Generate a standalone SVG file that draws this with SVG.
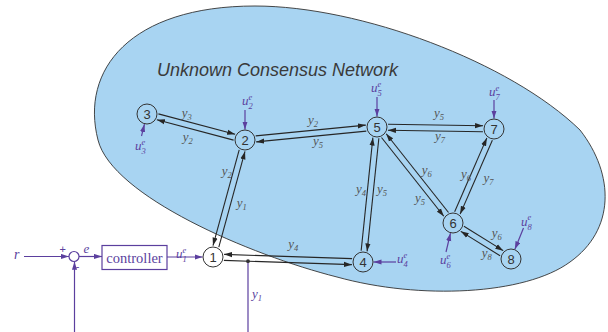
<svg xmlns="http://www.w3.org/2000/svg" width="608" height="332" viewBox="0 0 608 332">
<defs>
<marker id="ah" markerWidth="9" markerHeight="6" refX="8" refY="3" orient="auto" markerUnits="userSpaceOnUse"><path d="M0,0.4 L8,3 L0,5.6 z" fill="#262626"/></marker>
<marker id="ap" markerWidth="9" markerHeight="6" refX="8" refY="3" orient="auto" markerUnits="userSpaceOnUse"><path d="M0,0.4 L8,3 L0,5.6 z" fill="#5b3f9e"/></marker>
<style>
.edge{stroke:#262626;stroke-width:1.1;fill:none;marker-end:url(#ah)}
.in{stroke:#5b3f9e;stroke-width:1.2;fill:none;marker-end:url(#ap)}
.pl{stroke:#5b3f9e;stroke-width:1.2;fill:none}
.node circle{fill:none;stroke:#333;stroke-width:1}
.node text{font-family:"Liberation Sans",Arial,sans-serif;font-size:13px;fill:#333;text-anchor:middle}
.yl{font-family:"Liberation Serif","Times New Roman",serif;font-style:italic;font-size:13px;fill:#555}
.ul{font-family:"Liberation Serif","Times New Roman",serif;font-style:italic;font-size:13px;fill:#5b3f9e}
.s{font-size:8.5px}
.title{font-family:"Liberation Sans",Arial,sans-serif;font-style:italic;font-size:18px;fill:#3a3a3a}
.ctl{font-family:"Liberation Serif","Times New Roman",serif;font-size:14.5px;fill:#5b3f9e;text-anchor:middle}
.sg{font-family:"Liberation Sans",Arial,sans-serif;font-size:11px;fill:#5b3f9e;text-anchor:middle}
</style>
</defs>
<rect width="608" height="332" fill="#fff"/>
<path id="network" d="M 255 6 C 360 6, 510 62, 580 130 C 615 175, 615 230, 570 262 C 525 295, 420 300, 337 277 C 250 255, 112 196, 98 140 C 80 70, 130 6, 255 6 Z" fill="#a8d4f2" stroke="#333" stroke-width="0.9"/>
<text class="title" x="157" y="75.5">Unknown Consensus Network</text>

<g id="connectors">
<line class="edge" x1="158.4" y1="113.9" x2="235.1" y2="134.3"/>
<line class="edge" x1="233.6" y1="140.1" x2="156.9" y2="119.7"/>
<line class="edge" x1="255.7" y1="135.9" x2="365.8" y2="125.1"/>
<line class="edge" x1="366.3" y1="131.1" x2="256.2" y2="141.9"/>
<line class="edge" x1="388.05" y1="124.19" x2="483.05" y2="125.81"/>
<line class="edge" x1="482.95" y1="131.81" x2="387.95" y2="130.19"/>
<line class="edge" x1="239.2" y1="149.8" x2="213.0" y2="245.6"/>
<line class="edge" x1="218.8" y1="247.2" x2="245.0" y2="151.4"/>
<line class="edge" x1="361.15" y1="250.75" x2="372.88" y2="137.63"/>
<line class="edge" x1="378.85" y1="138.25" x2="367.12" y2="251.37"/>
<line class="edge" x1="448.52" y1="212.52" x2="386.18" y2="133.76"/>
<line class="edge" x1="381.48" y1="137.48" x2="443.82" y2="216.24"/>
<line class="edge" x1="454.65" y1="211.72" x2="486.85" y2="137.88"/>
<line class="edge" x1="492.35" y1="140.28" x2="460.15" y2="214.12"/>
<line class="edge" x1="463.93" y1="226.25" x2="503.23" y2="250.65"/>
<line class="edge" x1="500.07" y1="255.75" x2="460.77" y2="231.35"/>
<line class="edge" x1="352.11" y1="258.63" x2="224.09" y2="254.37"/>
<line class="edge" x1="223.89" y1="260.37" x2="351.91" y2="264.63"/>

<text class="yl" x="181.7" y="117">y<tspan class="s" dy="3">3</tspan></text>
<text class="yl" x="182.7" y="140.5">y<tspan class="s" dy="3">2</tspan></text>
<text class="yl" x="308" y="124">y<tspan class="s" dy="3">2</tspan></text>
<text class="yl" x="313" y="145">y<tspan class="s" dy="3">5</tspan></text>
<text class="yl" x="434" y="116.5">y<tspan class="s" dy="3">5</tspan></text>
<text class="yl" x="435" y="140">y<tspan class="s" dy="3">7</tspan></text>
<text class="yl" x="221.7" y="174.5">y<tspan class="s" dy="3">2</tspan></text>
<text class="yl" x="236.7" y="207">y<tspan class="s" dy="3">1</tspan></text>
<text class="yl" x="356" y="193">y<tspan class="s" dy="3">4</tspan></text>
<text class="yl" x="377" y="193">y<tspan class="s" dy="3">5</tspan></text>
<text class="yl" x="421.7" y="174">y<tspan class="s" dy="3">6</tspan></text>
<text class="yl" x="415" y="202">y<tspan class="s" dy="3">5</tspan></text>
<text class="yl" x="461" y="178">y<tspan class="s" dy="3">6</tspan></text>
<text class="yl" x="483.5" y="182">y<tspan class="s" dy="3">7</tspan></text>
<text class="yl" x="491.7" y="236.5">y<tspan class="s" dy="3">6</tspan></text>
<text class="yl" x="481.7" y="257">y<tspan class="s" dy="3">8</tspan></text>
<text class="yl" x="288.3" y="248">y<tspan class="s" dy="3">4</tspan></text>

<line class="in" x1="245" y1="110" x2="245" y2="129.5"/>
<line class="in" x1="141.5" y1="136" x2="144.45" y2="124.19"/>
<line class="in" x1="377" y1="97" x2="377" y2="116.5"/>
<line class="in" x1="494" y1="100" x2="494" y2="118.5"/>
<line class="in" x1="396" y1="262" x2="373.5" y2="262"/>
<line class="in" x1="446" y1="252" x2="450.5" y2="233.2"/>
<line class="in" x1="523.5" y1="228" x2="514.9" y2="249.3"/>

<text class="ul" x="242" y="105">u<tspan class="s" dy="-5.5">e</tspan><tspan class="s" dx="-3.8" dy="9.5">2</tspan></text>
<text class="ul" x="135" y="150">u<tspan class="s" dy="-5.5">e</tspan><tspan class="s" dx="-3.8" dy="9.5">3</tspan></text>
<text class="ul" x="371" y="92">u<tspan class="s" dy="-5.5">e</tspan><tspan class="s" dx="-3.8" dy="9.5">5</tspan></text>
<text class="ul" x="489" y="96">u<tspan class="s" dy="-5.5">e</tspan><tspan class="s" dx="-3.8" dy="9.5">7</tspan></text>
<text class="ul" x="397" y="263">u<tspan class="s" dy="-5.5">e</tspan><tspan class="s" dx="-3.8" dy="9.5">4</tspan></text>
<text class="ul" x="440" y="264">u<tspan class="s" dy="-5.5">e</tspan><tspan class="s" dx="-3.8" dy="9.5">6</tspan></text>
<text class="ul" x="521" y="225.5">u<tspan class="s" dy="-5.5">e</tspan><tspan class="s" dx="-3.8" dy="9.5">8</tspan></text>
<text class="ul" x="176" y="258">u<tspan class="s" dy="-5.5">e</tspan><tspan class="s" dx="-3.8" dy="9.5">1</tspan></text>

<line class="in" x1="24" y1="256.5" x2="69" y2="256.5"/>
<line class="in" x1="79" y1="256.5" x2="102" y2="256.5"/>
<line class="in" x1="167" y1="257" x2="202.5" y2="257"/>
<line class="in" x1="74.5" y1="332" x2="74.5" y2="261.8"/>
<line class="pl" x1="248" y1="261.2" x2="248" y2="332"/>
<circle cx="248" cy="261.2" r="1.9" fill="#333"/>
<text class="ul" x="252" y="298">y<tspan class="s" dy="3">1</tspan></text>
</g>

<g id="sum">
<circle cx="74" cy="256.5" r="5" fill="#fff" stroke="#5b3f9e" stroke-width="1.2"/>
<text class="sg" x="62.7" y="252.5">+</text>
<text class="sg" x="77.5" y="270">-</text>
<text class="ul" x="14" y="259" style="font-size:14px">r</text>
<text class="ul" x="83.5" y="252.5">e</text>
</g>
<g id="controller">
<rect x="102" y="245.5" width="65" height="24" fill="#fff" stroke="#5b3f9e" stroke-width="1.2"/>
<text class="ctl" x="134.5" y="262.5">controller</text>
</g>

<g id="n1" class="node"><circle cx="213" cy="257" r="10"/><text x="213" y="261.6">1</text></g>
<g id="n2" class="node"><circle cx="245" cy="140" r="10"/><text x="245" y="144.6">2</text></g>
<g id="n3" class="node"><circle cx="147" cy="114" r="10"/><text x="147" y="118.6">3</text></g>
<g id="n4" class="node"><circle cx="363" cy="262" r="10"/><text x="363" y="266.6">4</text></g>
<g id="n5" class="node"><circle cx="377" cy="127" r="10"/><text x="377" y="131.6">5</text></g>
<g id="n6" class="node"><circle cx="453" cy="223" r="10"/><text x="453" y="227.6">6</text></g>
<g id="n7" class="node"><circle cx="494" cy="129" r="10"/><text x="494" y="133.6">7</text></g>
<g id="n8" class="node"><circle cx="511" cy="259" r="10"/><text x="511" y="263.6">8</text></g>
</svg>
